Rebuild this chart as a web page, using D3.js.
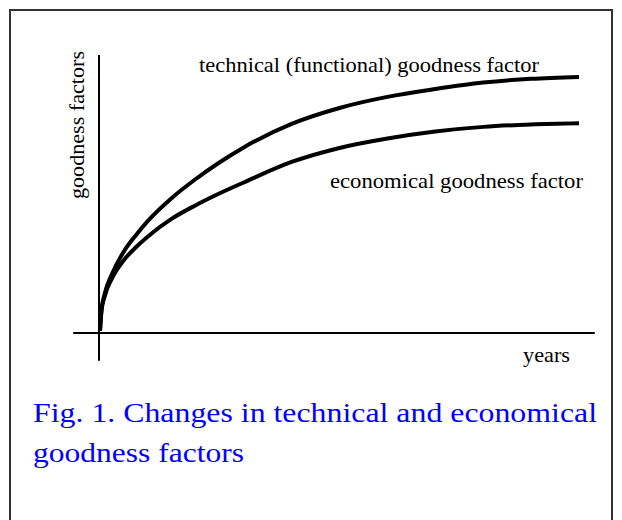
<!DOCTYPE html>
<html>
<head>
<meta charset="utf-8">
<script src="https://cdn.jsdelivr.net/npm/d3@7"></script>
<style>
  body { margin: 0; background: #fff; }
</style>
</head>
<body>
<script>
'use strict';

// years (0..100 of the shown span) and goodness factor values (0..100)
const years = [0, 0.3, 1, 2.5, 5, 7.5, 10, 15, 20, 25, 30, 40, 50, 60, 70, 80, 90, 100];
const techValues = [0, 7.5, 13.9, 21.1, 29.5, 35.5, 40.8, 49.3, 56.3, 62.5, 68.0, 76.7, 82.6, 86.7, 89.6, 92.0, 93.4, 94.1];
const econValues = [0, 7.3, 13.0, 19.5, 26.3, 31.0, 35.0, 41.6, 46.6, 51.0, 55.0, 62.6, 67.8, 71.3, 73.9, 75.6, 76.5, 76.9];

const labels = {
  y: "goodness factors",
  x: "years",
  tech: "technical (functional) goodness factor",
  econ: "economical goodness factor"
};
const captionLines = ["Fig. 1. Changes in technical and economical", "goodness factors"];

const measurements = { width: 622, height: 520 };
const serif = '"Liberation Serif", "Times New Roman", serif';

let svg = d3.select('body')
  .append('svg')
  .attr('width', measurements.width)
  .attr('height', measurements.height);

// frame around the figure (open at the bottom, runs past the picture)
svg.append('rect')
  .attr('x', 10)
  .attr('y', 10)
  .attr('width', 602)
  .attr('height', 530)
  .attr('fill', 'none')
  .attr('stroke', '#333')
  .attr('stroke-width', 2);

let xScale = d3.scaleLinear().domain([0, 100]).range([100, 579]);
let yScale = d3.scaleLinear().domain([0, 100]).range([331, 61]);

// axes are plain lines through the origin
svg.append('line')
  .attr('x1', xScale(0) - 1).attr('x2', xScale(0) - 1)
  .attr('y1', yScale(100) - 6).attr('y2', yScale(-11))
  .attr('stroke', '#000').attr('stroke-width', 2);

svg.append('line')
  .attr('x1', xScale(-5.6)).attr('x2', xScale(103.3))
  .attr('y1', yScale(0) + 2).attr('y2', yScale(0) + 2)
  .attr('stroke', '#000').attr('stroke-width', 2);

let line = d3.line()
  .x(d => xScale(d[0]))
  .y(d => yScale(d[1]))
  .curve(d3.curveMonotoneX);

[techValues, econValues].forEach(function(vals) {
  svg.append('path')
    .datum(d3.zip(years, vals))
    .attr('fill', 'none')
    .attr('stroke', '#000')
    .attr('stroke-width', 4)
    .attr('d', line);
});

// helper: serif text stretched to the width it has in the figure
function addText(x, y, str, size, len, anchor) {
  return svg.append('text')
    .attr('x', x).attr('y', y)
    .attr('font-family', serif)
    .attr('font-size', size)
    .attr('text-anchor', anchor || 'start')
    .attr('textLength', len)
    .attr('lengthAdjust', 'spacingAndGlyphs')
    .text(str);
}

// curve and axis labels
addText(199, 72, labels.tech, 21, 340);
addText(330, 188, labels.econ, 21, 253);
addText(523, 362, labels.x, 21, 47);

addText(0, 0, labels.y, 21, 148, 'end')
  .attr('transform', 'translate(84, 51)rotate(-90)');

// caption
svg.selectAll('.caption')
  .data(captionLines)
  .enter()
  .append('text')
  .attr('class', 'caption')
  .attr('x', 33)
  .attr('y', (d, i) => 422 + i * 40)
  .attr('fill', '#0000ff')
  .attr('font-family', serif)
  .attr('font-size', 28)
  .attr('textLength', (d, i) => i === 0 ? 564 : 211)
  .attr('lengthAdjust', 'spacingAndGlyphs')
  .text(d => d);
</script>
</body>
</html>
